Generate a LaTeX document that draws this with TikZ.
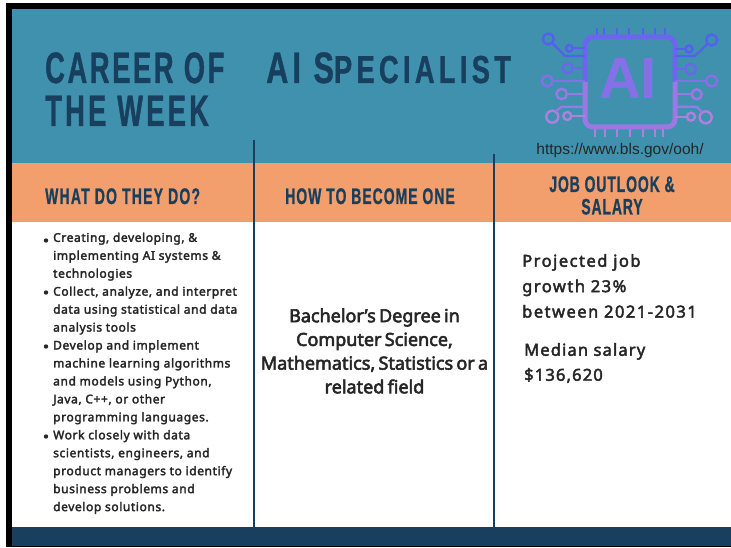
\documentclass[tikz,border=0pt]{standalone}
\usepackage{fontspec}
\setmainfont[FakeBold=2.6]{Noto Sans}
\newfontfamily\condfont[FakeStretch=0.62,BoldFont={Liberation Sans Bold},BoldFeatures={FakeBold=0.8}]{Liberation Sans}
\newfontfamily\specfont[FakeStretch=0.7,BoldFont={Liberation Sans Bold},BoldFeatures={FakeBold=0.8}]{Liberation Sans}
\newfontfamily\urlfont{Liberation Sans}
\newfontfamily\tightfont[WordSpace=0.7,FakeBold=3]{Noto Sans}
\definecolor{tealbg}{HTML}{4091AE}
\definecolor{orangebg}{HTML}{F29E6D}
\definecolor{navy}{HTML}{183F5E}
\definecolor{bodyink}{HTML}{262626}
\definecolor{chipA}{HTML}{5560F0}
\definecolor{chipB}{HTML}{6C66EC}
\definecolor{chipC}{HTML}{8670E8}
\definecolor{chipD}{HTML}{9C78E4}
\definecolor{chipE}{HTML}{B080E0}
\tikzset{
 x=1pt,y=-1pt,
 band/.style={fill=#1,draw=none},
 divider/.style={draw=navy,line width=2pt},
 headtext/.style={font=\condfont\bfseries\fontsize{22.5}{22.5}\selectfont\addfontfeature{LetterSpace=5.5},text=navy,align=center,inner sep=0pt},
 bigtext/.style={font=\condfont\bfseries\fontsize{44}{44}\selectfont\addfontfeature{LetterSpace=6},text=navy,inner sep=0pt,anchor=base west},
 bodytext/.style={text=bodyink,inner sep=0pt},
 wire/.style={line width=2.2pt,draw=#1,fill=none,line join=round},
 pad/.style={line width=2.4pt,draw=#1,fill=none},
}
\begin{document}
\begin{tikzpicture}
\useasboundingbox (0,0) rectangle (731,548);
\fill[white] (0,0) rectangle (731,548);
\fill[black] (6,3) rectangle (731,547);
\fill[band=tealbg] (12,9) rectangle (731,163);
\fill[band=orangebg] (12,163) rectangle (731,222);
\fill[band=white] (12,222) rectangle (731,527);
\fill[band=navy] (12,527) rectangle (731,546);
\coordinate (d1t) at (254,140); \coordinate (d1b) at (254,527);
\coordinate (d2t) at (494,154); \coordinate (d2b) at (494,527);
\draw[divider] (d1t) -- (d1b);
\draw[divider] (d2t) -- (d2b);
% titles
\node[bigtext] (career) at (45,83) {CAREER OF};
\node[bigtext] (week) at (45,126) {\addfontfeature{LetterSpace=7.5}THE WEEK};
\node[bigtext] (spec) at (266,83) {\specfont\bfseries\addfontfeature{LetterSpace=9}AI S{\fontsize{39}{39}\selectfont\addfontfeature{LetterSpace=11}PECIALIST}};
% headers
\node[headtext,anchor=base west] (h1) at (45,204) {WHAT DO THEY DO?};
\node[headtext,anchor=base] (h2) at (370,204) {\addfontfeature{LetterSpace=4.5}HOW TO BECOME ONE};
\node[headtext,anchor=center] (h3) at (612,195.5) {\addfontfeature{LetterSpace=4}JOB OUTLOOK \&\\[0pt]\addfontfeature{LetterSpace=4}SALARY};
% body
\node[bodytext,anchor=north west,align=left,font=\fontsize{12}{17.95}\selectfont\addfontfeature{LetterSpace=5}] (b1) at (53,232.5) {Creating, developing, \&\\implementing AI systems \&\\technologies\\Collect, analyze, and interpret\\data using statistical and data\\analysis tools\\Develop and implement\\machine learning algorithms\\and models using Python,\\Java, C++, or other\\programming languages.\\Work closely with data\\scientists, engineers, and\\product managers to identify\\business problems and\\develop solutions.};
\foreach \n/\yy in {a/240.5,b/292.5,c/346.5,d/436.5}
  \fill[bodyink] (46,\yy) circle (2.2);
\node[bodytext,anchor=center,align=center,font=\tightfont\fontsize{18}{23.7}\selectfont] (b2) at (374.5,351) {Bachelor’s Degree in\\Computer Science,\\Mathematics, Statistics or a\\related field};
\node[bodytext,anchor=north west,align=left,font=\fontsize{16.5}{25.4}\selectfont\addfontfeature{LetterSpace=9}] (b3) at (522,254) {Projected job\\growth 23\%\\between 2021-2031};
\node[bodytext,anchor=north west,align=left,font=\fontsize{16.5}{25}\selectfont\addfontfeature{LetterSpace=7}] (b4) at (524,343) {Median salary\\\$136,620};
\node[inner sep=0pt,anchor=base,font=\urlfont\fontsize{15.5}{16}\selectfont,text=black!85] (url) at (620,155) {https://www.bls.gov/ooh/};
% chip
\node[inner sep=0pt,anchor=base,font=\urlfont\bfseries\fontsize{58}{58}\selectfont,text=chipC] (ai) at (628,99) {AI};
\foreach \xx in {596.7,604.3,617.3,629.3,642.7,655,665} \draw[wire=chipA] (\xx,28) -- (\xx,37);
\foreach \xx in {595,605,617,630,642.7,655,663} \draw[wire=chipE] (\xx,127) -- (\xx,137);
\draw[line width=5pt,draw=chipB,rounded corners=8pt] (585,82) |- (675,37) -- (675,82);
\draw[line width=5pt,draw=chipD,rounded corners=8pt] (585,82) |- (675,127) -- (675,82);
% left circuit
\draw[pad=chipA] (548.3,39) circle (5.5);
\draw[wire=chipA] (552.3,43) -- (565,56) -- (585,56);
\draw[pad=chipA] (569.3,48.3) circle (3.3);
\draw[wire=chipA] (572.6,48.3) -- (585,48.3);
\draw[pad=chipB] (567.7,68.3) circle (5);
\draw[wire=chipB] (572.7,68.3) -- (585,68.3);
\draw[pad=chipC] (547.3,81) circle (5.5);
\draw[wire=chipC] (552.8,81) -- (585,81);
\draw[pad=chipD] (561.7,94) circle (5.2);
\draw[wire=chipD] (566.9,94) -- (585,94);
\draw[pad=chipE] (552.3,116.7) circle (6);
\draw[wire=chipD] (555.5,111.5) -- (561.7,106.7) -- (585,106.7);
\draw[pad=chipE] (567.3,116) circle (4);
\draw[wire=chipE] (571.3,116) -- (585,116);
% right circuit
\draw[pad=chipA] (711.7,40) circle (5.5);
\draw[wire=chipA] (707.5,44) -- (695,56) -- (675,56);
\draw[pad=chipA] (689,49) circle (3.5);
\draw[wire=chipA] (685.5,49) -- (675,49);
\draw[pad=chipB] (690.7,69) circle (5.3);
\draw[wire=chipB] (685.4,69) -- (675,69);
\draw[pad=chipC] (711.7,81) circle (5.5);
\draw[wire=chipC] (706.2,81) -- (675,81);
\draw[pad=chipD] (696.7,94.3) circle (5);
\draw[wire=chipD] (691.7,94.3) -- (675,94.3);
\draw[pad=chipE] (705.7,117.3) circle (6);
\draw[wire=chipD] (702,112) -- (696.7,106.7) -- (675,106.7);
\draw[pad=chipE] (691,116.7) circle (4);
\draw[wire=chipE] (687,116.7) -- (675,116.7);
\end{tikzpicture}
\end{document}
